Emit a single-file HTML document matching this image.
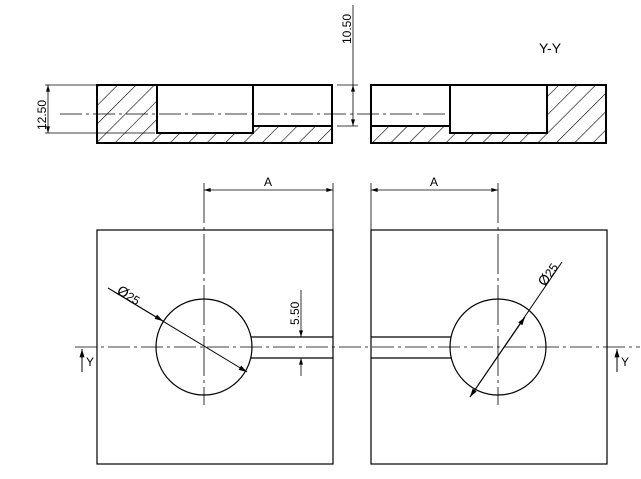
<html><body style="margin:0;background:#fff">
<svg width="641" height="479" xmlns="http://www.w3.org/2000/svg" font-family="Liberation Sans, sans-serif">
<defs>
<pattern id="h" patternUnits="userSpaceOnUse" width="13" height="13" patternTransform="rotate(45)">
<line x1="0" y1="0" x2="0" y2="13" stroke="#000" stroke-width="1.2"/></pattern>
<marker id="a" viewBox="0 0 10 6" refX="10" refY="3" markerWidth="10" markerHeight="5" orient="auto-start-reverse"><path d="M0,0L10,3L0,6z" fill="#000"/></marker>
</defs>
<g stroke="#000" fill="none">
<path d="M97,85H157V133H253V126H332V143H97Z" fill="url(#h)" stroke="none"/>
<rect x="97" y="85" width="235" height="58" stroke-width="2"/>
<path d="M157,85V133H253V85M253,126H332" stroke-width="2"/>
<path d="M547,85H606V143H371V126H450V133H547Z" fill="url(#h)" stroke="none"/>
<rect x="371" y="85" width="235" height="58" stroke-width="2"/>
<path d="M450,85V133H547V85M371,126H450" stroke-width="2"/>
<line x1="60" y1="114" x2="450" y2="114" stroke-width="0.8" stroke-dasharray="22,4,3,4"/>
<line x1="45" y1="85" x2="97" y2="85" stroke-width="0.8"/>
<line x1="45" y1="133" x2="155" y2="133" stroke-width="0.8"/>
<line x1="48" y1="85" x2="48" y2="133" stroke-width="0.8" marker-start="url(#a)" marker-end="url(#a)"/>
<line x1="337" y1="85" x2="358" y2="85" stroke-width="0.8"/>
<line x1="337" y1="126" x2="358" y2="126" stroke-width="0.8"/>
<line x1="353" y1="5" x2="353" y2="85" stroke-width="0.8"/>
<line x1="353" y1="85" x2="353" y2="126" stroke-width="0.8" marker-start="url(#a)" marker-end="url(#a)"/>
<rect x="97" y="230" width="236" height="234" stroke-width="1.2"/>
<rect x="371" y="230" width="236" height="234" stroke-width="1.2"/>
<circle cx="204" cy="347" r="48" stroke-width="1.2"/>
<circle cx="498" cy="347" r="48" stroke-width="1.2"/>
<path d="M251,337H333M251,358H333M371,337H451M371,358H451" stroke-width="1.2"/>
<line x1="75" y1="347" x2="640" y2="347" stroke-width="0.8" stroke-dasharray="22,4,3,4"/>
<line x1="204" y1="183" x2="204" y2="405" stroke-width="0.8" stroke-dasharray="40,4,3,4"/>
<line x1="498" y1="183" x2="498" y2="405" stroke-width="0.8" stroke-dasharray="40,4,3,4"/>
<line x1="333" y1="183" x2="333" y2="230" stroke-width="0.8"/>
<line x1="371" y1="183" x2="371" y2="230" stroke-width="0.8"/>
<line x1="204" y1="190" x2="333" y2="190" stroke-width="0.8" marker-start="url(#a)" marker-end="url(#a)"/>
<line x1="371" y1="190" x2="498" y2="190" stroke-width="0.8" marker-start="url(#a)" marker-end="url(#a)"/>
<line x1="301" y1="290" x2="301" y2="337" stroke-width="0.8" marker-end="url(#a)"/>
<line x1="301" y1="376" x2="301" y2="358" stroke-width="0.8" marker-end="url(#a)"/>
<line x1="108" y1="288" x2="247" y2="372" stroke-width="1" marker-end="url(#a)"/>
<line x1="108" y1="288" x2="163" y2="321" stroke-width="1" marker-end="url(#a)"/>
<line x1="562" y1="262" x2="470" y2="397" stroke-width="1" marker-end="url(#a)"/>
<line x1="470" y1="397" x2="525" y2="317" stroke-width="1" marker-end="url(#a)"/>
<line x1="82" y1="372" x2="82" y2="349" stroke-width="1" marker-end="url(#a)"/>
<line x1="617" y1="372" x2="617" y2="349" stroke-width="1" marker-end="url(#a)"/>
</g>
<g font-size="12" fill="#000">
<text transform="translate(46,130) rotate(-90)">12.50</text>
<text transform="translate(351,44) rotate(-90)">10.50</text>
<text transform="translate(299,325) rotate(-90)">5.50</text>
<text x="264" y="186">A</text>
<text x="430" y="186">A</text>
<text x="86" y="366">Y</text>
<text x="621" y="366">Y</text>
<text transform="translate(116,293) rotate(31)" font-size="14">Ø<tspan font-size="12">25</tspan></text>
<text transform="translate(545,287) rotate(-56)" font-size="14">Ø<tspan font-size="12">25</tspan></text>
<text x="539" y="53" font-size="14">Y-Y</text>
</g>
</svg>
</body></html>
